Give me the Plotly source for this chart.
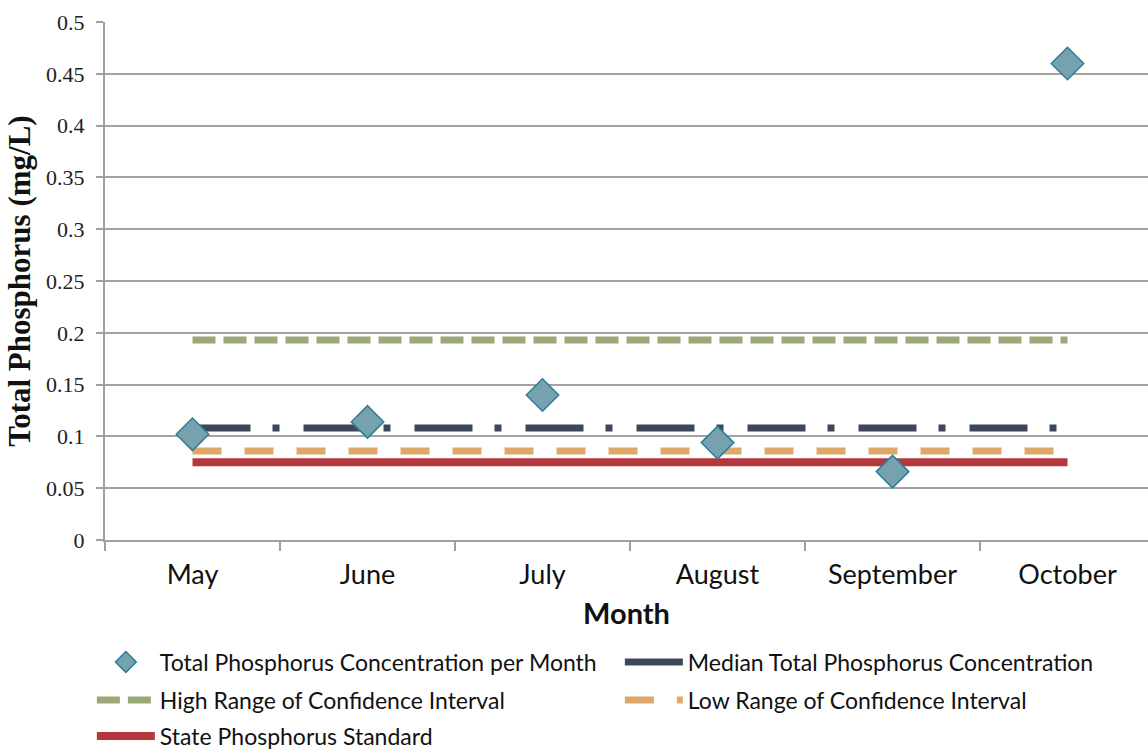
import plotly.graph_objects as go

months = ["May", "June", "July", "August", "September", "October"]
tp_monthly = [0.102, 0.114, 0.140, 0.094, 0.066, 0.460]
median_tp = [0.108] * 6
high_ci = [0.193] * 6
low_ci = [0.086] * 6
state_std = [0.075] * 6

SANS = "Lato, 'Open Sans', sans-serif"
SERIF = "'Liberation Serif', 'DejaVu Serif', serif"

fig = go.Figure()
fig.add_trace(go.Scatter(x=months, y=state_std, mode="lines", name="State Phosphorus Standard",
                         line=dict(color="#B5373B", width=8), legend="legend3"))
fig.add_trace(go.Scatter(x=months, y=low_ci, mode="lines", name="Low Range of Confidence Interval",
                         line=dict(color="#DFA76A", width=7, dash="29px,23px"), legend="legend2", legendrank=2))
fig.add_trace(go.Scatter(x=months, y=high_ci, mode="lines", name="High Range of Confidence Interval",
                         line=dict(color="#9BA878", width=7, dash="23px,8px"), legend="legend2", legendrank=1))
fig.add_trace(go.Scatter(x=months, y=median_tp, mode="lines", name="Median Total Phosphorus Concentration",
                         line=dict(color="#3C4859", width=7, dash="58px,22px,7px,24px"), legend="legend", legendrank=2))
fig.add_trace(go.Scatter(x=months, y=tp_monthly, mode="markers", name="Total Phosphorus Concentration per Month",
                         marker=dict(symbol="diamond", size=25, color="#76A1AE",
                                     line=dict(color="#2F7F94", width=1.5)), legend="legend", legendrank=1))

leg_common = dict(orientation="h", x=-0.0126, xanchor="left", yanchor="middle",
                  font=dict(family=SANS, size=23, color="#111111"),
                  itemwidth=58, entrywidth=455, entrywidthmode="pixels",
                  traceorder="normal", bgcolor="rgba(0,0,0,0)")

def ypaper(py):
    return (540 - py) / 518.0

fig.update_layout(
    width=1148, height=751,
    margin=dict(l=105, r=0, t=22, b=211, autoexpand=False),
    paper_bgcolor="white", plot_bgcolor="white",
    showlegend=True,
    legend=dict(leg_common, y=ypaper(662)),
    legend2=dict(leg_common, y=ypaper(700)),
    legend3=dict(leg_common, y=ypaper(736)),
    xaxis=dict(
        type="category", range=[-0.5, 5.46], automargin=False,
        showline=True, linecolor="#A0A0A0", linewidth=2,
        ticks="outside", ticklen=9, tickwidth=2, tickcolor="#A0A0A0",
        tickson="boundaries", showgrid=False,
        tickfont=dict(family=SANS, size=27, color="#111111"),
        ticklabelstandoff=10,
        title=dict(text="<b>Month</b>", font=dict(family=SANS, size=29, color="#111111"), standoff=14),
    ),
    yaxis=dict(
        range=[0, 0.5], dtick=0.05, tick0=0, automargin=False,
        showline=True, linecolor="#A0A0A0", linewidth=2,
        ticks="outside", ticklen=7, tickwidth=2, tickcolor="#A0A0A0",
        showgrid=True, gridcolor="#A3A3A3", gridwidth=1.5, zeroline=False,
        tickfont=dict(family=SERIF, size=22, color="#222222"),
        ticklabelstandoff=7,
        title=dict(text="<b>Total Phosphorus (mg/L)</b>", font=dict(family=SERIF, size=31, color="#111111"), standoff=6),
    ),
)

fig.write_html("out.html", config={"displayModeBar": False},
               post_script="document.body.style.margin='0';document.body.style.overflow='hidden';")
